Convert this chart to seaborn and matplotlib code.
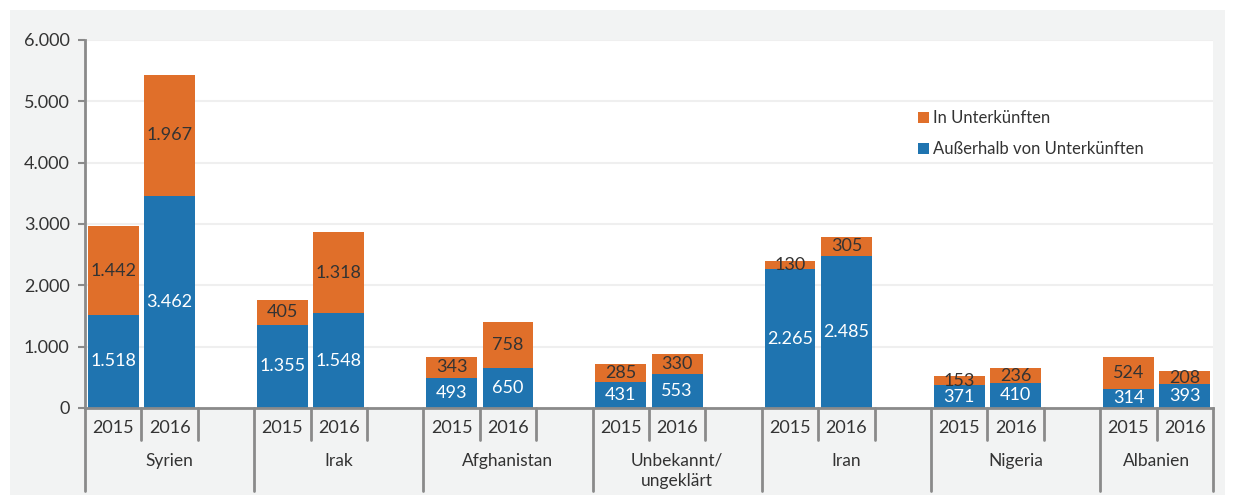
import pandas as pd
import matplotlib.pyplot as plt
import seaborn as sns
from matplotlib.patches import Rectangle
from matplotlib.lines import Line2D
import matplotlib.transforms as mtransforms

# Daten: Herkunftsländer, Jahre, Werte je Kategorie
countries = ['Syrien', 'Irak', 'Afghanistan', 'Unbekannt/\nungeklärt', 'Iran', 'Nigeria', 'Albanien']
years = ['2015', '2016']
outside_2015 = [1518, 1355, 493, 431, 2265, 371, 314]
outside_2016 = [3462, 1548, 650, 553, 2485, 410, 393]
inside_2015 = [1442, 405, 343, 285, 130, 153, 524]
inside_2016 = [1967, 1318, 758, 330, 305, 236, 208]
y_ticks = [0, 1000, 2000, 3000, 4000, 5000, 6000]

ORANGE = '#e06f2a'
BLUE = '#1f74b0'
TEXT = '#333333'
AXIS = '#8a8a8a'


def fmt(v):
    return f'{v:,}'.replace(',', '.')


rows = []
order = []
for g, c in enumerate(countries):
    for yr, outside, inside in zip(years,
                                   [outside_2015[g], outside_2016[g]],
                                   [inside_2015[g], inside_2016[g]]):
        slot = f'{c}|{yr}'
        order.append(slot)
        rows.append({'slot': slot, 'country': c, 'year': yr,
                     'outside': outside, 'inside': inside,
                     'total': outside + inside})
    if g < len(countries) - 1:
        order.append(f'gap{g}')
df = pd.DataFrame(rows)

sns.set_style('white')
plt.rcParams['font.family'] = ['Lato', 'DejaVu Sans']

fig = plt.figure(figsize=(12.37, 4.97), dpi=100, facecolor='white')
# grauer Hintergrund hinter der Achse
fig.patches.append(Rectangle((10 / 1237, 2 / 497), 1215 / 1237, 485 / 497,
                             transform=fig.transFigure, facecolor='#f2f3f3',
                             edgecolor='none', zorder=-1))
ax = fig.add_axes([85 / 1237, 1 - 408 / 497, 1128 / 1237, 368 / 497])
ax.set_facecolor('white')

sns.barplot(data=df, x='slot', y='total', order=order, color=ORANGE,
            saturation=1, width=0.9, linewidth=0, errorbar=None, ax=ax,
            label='In Unterkünften')
sns.barplot(data=df, x='slot', y='outside', order=order, color=BLUE,
            saturation=1, width=0.9, linewidth=0, errorbar=None, ax=ax,
            label='Außerhalb von Unterkünften')

# Werte beschriften
for _, r in df.iterrows():
    x = order.index(r['slot'])
    ax.text(x, r['outside'] / 2, fmt(r['outside']), ha='center', va='center',
            color='white', fontsize=13)
    ax.text(x, r['outside'] + r['inside'] / 2, fmt(r['inside']), ha='center',
            va='center', color=TEXT, fontsize=13)

ax.set_xlim(-0.5, len(order) - 0.5)
ax.set_ylim(0, 6000)
ax.set_yticks(y_ticks)
ax.set_yticklabels([fmt(v) for v in y_ticks], fontsize=13, color=TEXT)
ax.tick_params(axis='y', left=True, length=5, width=1.5, color=AXIS, pad=6)
ax.set_xticks([])
ax.set_xlabel('')
ax.set_ylabel('')
ax.yaxis.grid(True, color='#efefef', linewidth=1.5)
ax.set_axisbelow(True)
for side in ['top', 'right']:
    ax.spines[side].set_visible(False)
for side in ['left', 'bottom']:
    ax.spines[side].set_color(AXIS)
    ax.spines[side].set_linewidth(2)

# zweistufige Kategorieachse
trans = mtransforms.blended_transform_factory(ax.transData, ax.transAxes)
for g, c in enumerate(countries):
    start = 3 * g - 0.5
    for k, yr in enumerate(years):
        ax.text(3 * g + k, -0.054, yr, transform=trans, ha='center', va='center',
                fontsize=13, color=TEXT)
    ax.add_line(Line2D([start, start], [0, -0.225], transform=trans, color=AXIS,
                       linewidth=2, clip_on=False))
    for k in (1, 2):
        if g == len(countries) - 1 and k == 2:
            continue
        ax.add_line(Line2D([start + k, start + k], [0, -0.087], transform=trans,
                           color=AXIS, linewidth=2, clip_on=False))
    n_slots = 2 if g == len(countries) - 1 else 3
    ax.text(start + n_slots / 2, -0.17 if '\n' in c else -0.144, c,
            transform=trans, ha='center', va='center', fontsize=12.5,
            color=TEXT, linespacing=1.3)
end = len(order) - 0.5
ax.add_line(Line2D([end, end], [0, -0.225], transform=trans, color=AXIS,
                   linewidth=2, clip_on=False))

ax.legend(loc='upper left', bbox_to_anchor=(0.725, 0.85), frameon=False,
          fontsize=12, handlelength=0.7, handleheight=0.7, handletextpad=0.2,
          labelspacing=0.9, labelcolor=TEXT)

fig.savefig('out.png', dpi=100, facecolor='white')
